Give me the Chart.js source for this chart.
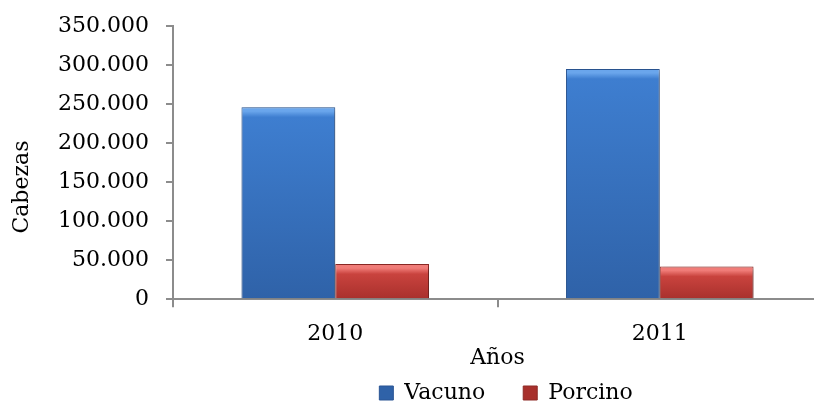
<!DOCTYPE html>
<html>
<head>
<meta charset="utf-8">
<script src="https://cdn.jsdelivr.net/npm/chart.js@4.4.0/dist/chart.umd.min.js"></script>
<style>
html, body { margin: 0; padding: 0; background: #fff; overflow: hidden; }
#wrap { width: 814px; height: 402px; overflow: hidden; }
</style>
</head>
<body>
<div id="wrap"><canvas id="chart" width="1012" height="402"></canvas></div>
<script>
var years = ["2010", "2011"];
var vacuno = [246000, 295000];
var porcino = [45000, 42000];
var yMax = 350000;
var yStep = 50000;

function fmt(v) {
	return String(v).replace(/\B(?=(\d{3})+(?!\d))/g, ".");
}

// vertical gradient per bar, light bevel on top
function barFill(light, top, bottom, flat) {
	return function (ctx) {
		var chart = ctx.chart;
		if (ctx.type !== "data" || !chart.scales.y) return flat;
		var y = chart.scales.y;
		var y0 = y.getPixelForValue(ctx.raw);
		var y1 = y.getPixelForValue(0);
		if (!isFinite(y0) || y1 - y0 < 1) return flat;
		var g = chart.ctx.createLinearGradient(0, y0, 0, y1);
		var k = Math.min(0.45, 10 / (y1 - y0));
		g.addColorStop(0, light);
		g.addColorStop(k * 0.4, light);
		g.addColorStop(k, top);
		g.addColorStop(1, bottom);
		return g;
	};
}

var shadow = {
	id: "shadow",
	beforeDatasetsDraw: function (chart) {
		var c = chart.ctx;
		c.save();
		c.shadowColor = "rgba(0,0,0,0.35)";
		c.shadowBlur = 5;
		c.shadowOffsetX = 2;
		c.shadowOffsetY = 2;
	},
	afterDatasetsDraw: function (chart) {
		chart.ctx.restore();
	}
};

Chart.defaults.font.family = "'DejaVu Serif', serif";
Chart.defaults.font.size = 22;
Chart.defaults.color = "#000";

var axisGray = "#8c8c8c";

new Chart(document.getElementById("chart").getContext("2d"), {
	type: "bar",
	data: {
		labels: years,
		datasets: [
			{
				label: "Vacuno",
				data: vacuno,
				backgroundColor: barFill("#6aa6ec", "#3e7ed0", "#2f62a8", "#3b78c8"),
				borderColor: "#2a5594",
				borderWidth: 1,
				barPercentage: 1,
				categoryPercentage: 0.578
			},
			{
				label: "Porcino",
				data: porcino,
				backgroundColor: barFill("#f07c78", "#c9433e", "#a8302c", "#c0403b"),
				borderColor: "#8e2a26",
				borderWidth: 1,
				barPercentage: 1,
				categoryPercentage: 0.578
			}
		]
	},
	options: {
		responsive: false,
		animation: false,
		devicePixelRatio: 1,
		layout: { padding: { top: 26, bottom: -12, left: 0, right: 0 } },
		plugins: {
			tooltip: { enabled: false },
			legend: {
				position: "bottom",
				labels: { boxWidth: 14, boxHeight: 14, padding: 38, font: { size: 22 } }
			}
		},
		scales: {
			x: {
				grid: { drawOnChartArea: false, tickLength: 8, color: axisGray, lineWidth: 2 },
				border: { color: axisGray, width: 2 },
				ticks: { padding: 14 },
				title: { display: true, text: "Años", padding: { top: -17, bottom: -27 } }
			},
			y: {
				min: 0,
				max: yMax,
				ticks: { stepSize: yStep, padding: 17, font: { lineHeight: 0.8 }, callback: function (v) { return fmt(v); } },
				grid: { drawOnChartArea: false, tickLength: 7, color: axisGray, lineWidth: 2 },
				border: { color: axisGray, width: 2 },
				title: { display: true, text: "Cabezas       ", padding: { top: 9, bottom: 0 } },
				afterFit: function (s) { s.width = 173; }
			},
			y2: {
				position: "right",
				display: true,
				grid: { display: false },
				ticks: { display: false },
				border: { display: false },
				afterFit: function (s) { s.width = 190; }
			}
		}
	},
	plugins: [shadow]
});
</script>
</body>
</html>
